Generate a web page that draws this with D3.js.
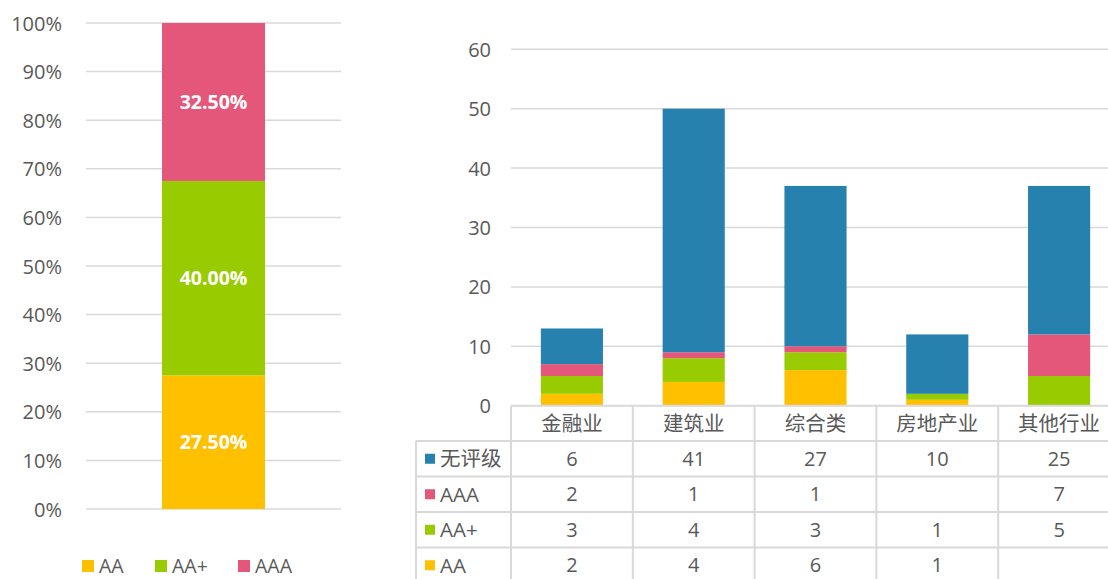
<!DOCTYPE html>
<html>
<head>
<meta charset="utf-8">
<script src="https://cdn.jsdelivr.net/npm/d3@7"></script>
<style>
  html, body { margin: 0; padding: 0; background: #fff; }
  svg { display: block; }
  text { font-family: "Open Sans", "Noto Sans CJK SC", sans-serif; fill: #595959; }
</style>
</head>
<body>
<svg id="chart" width="1108" height="579"></svg>
<script>
// ---- Data ----
const ratings = ["AA", "AA+", "AAA"];
const ratingShares = [0.275, 0.40, 0.325];
const shareTicks = [0, 0.1, 0.2, 0.3, 0.4, 0.5, 0.6, 0.7, 0.8, 0.9, 1.0];

const industries = ["金融业", "建筑业", "综合类", "房地产业", "其他行业"];
const seriesNames = ["AA", "AA+", "AAA", "无评级"];
const valuesAA      = [2, 4, 6, 1, null];
const valuesAAPlus  = [3, 4, 3, 1, 5];
const valuesAAA     = [2, 1, 1, null, 7];
const valuesUnrated = [6, 41, 27, 10, 25];
const countTicks = [0, 10, 20, 30, 40, 50, 60];

const colors = { "AA": "#FFC000", "AA+": "#99CC00", "AAA": "#E5577A", "无评级": "#2681AF" };
const gridColor = "#D9D9D9";

const svg = d3.select("#chart");

// ================= Left chart: 100% stacked column =================
const L = { x0: 86, x1: 341, yTop: 23, yBot: 509 };
const yL = d3.scaleLinear().domain([0, 1]).range([L.yBot, L.yTop]);
const xL = d3.scaleBand().domain(["total"]).range([L.x0, L.x1]).paddingInner(0).paddingOuter(0.738);

const gL = svg.append("g");
gL.selectAll("line.grid").data(shareTicks).join("line")
  .attr("x1", L.x0).attr("x2", L.x1)
  .attr("y1", d => yL(d)).attr("y2", d => yL(d))
  .attr("stroke", gridColor).attr("stroke-width", 1.5);

const axisL = d3.axisLeft(yL).tickValues(shareTicks).tickFormat(d3.format(".0%")).tickSize(0).tickPadding(0);
const axL = gL.append("g").attr("transform", `translate(62,0)`).call(axisL);
axL.select(".domain").remove();
axL.selectAll("text").attr("font-size", 20).attr("fill", "#595959")
  .attr("font-family", "'Open Sans', sans-serif").attr("dy", "0.35em");

const leftStack = [];
let acc = 0;
ratings.forEach((r, i) => { leftStack.push({ key: r, y0: acc, y1: acc + ratingShares[i] }); acc += ratingShares[i]; });

gL.selectAll("rect.seg").data(leftStack).join("rect")
  .attr("x", xL("total")).attr("width", xL.bandwidth())
  .attr("y", d => yL(d.y1)).attr("height", d => yL(d.y0) - yL(d.y1))
  .attr("fill", d => colors[d.key]);

gL.selectAll("text.lbl").data(leftStack).join("text")
  .attr("x", xL("total") + xL.bandwidth() / 2)
  .attr("y", d => (yL(d.y0) + yL(d.y1)) / 2)
  .attr("dy", "0.36em")
  .attr("text-anchor", "middle")
  .attr("font-size", 19.5).attr("font-weight", 700)
  .style("fill", "#fff")
  .text(d => d3.format(".2%")(d.y1 - d.y0));

// legend
const legendX = [82, 155, 238];
const lg = gL.selectAll("g.leg").data(ratings).join("g")
  .attr("transform", (d, i) => `translate(${legendX[i]},560)`);
lg.append("rect").attr("width", 12).attr("height", 12).attr("fill", d => colors[d]);
lg.append("text").attr("x", 17).attr("y", 13).attr("font-size", 19.5).text(d => d);

// ================= Right chart: stacked column + data table =================
const R = { x0: 511, x1: 1120, yTop: 49.3, yBot: 405.7 };
const yR = d3.scaleLinear().domain([0, 60]).range([R.yBot, R.yTop]);
const xR = d3.scaleBand().domain(industries).range([R.x0, R.x1]).paddingInner(0.49).paddingOuter(0.245);
const step = xR.step();

const gR = svg.append("g");
gR.selectAll("line.grid").data(countTicks.filter(d => d > 0)).join("line")
  .attr("x1", R.x0).attr("x2", 1108)
  .attr("y1", d => yR(d)).attr("y2", d => yR(d))
  .attr("stroke", gridColor).attr("stroke-width", 1.5);

const axisR = d3.axisLeft(yR).tickValues(countTicks).tickSize(0).tickPadding(0);
const axR = gR.append("g").attr("transform", `translate(491,0)`).call(axisR);
axR.select(".domain").remove();
axR.selectAll("text").attr("font-size", 20).attr("fill", "#595959")
  .attr("font-family", "'Open Sans', sans-serif").attr("dy", "0.35em");

const rows = industries.map((c, i) => ({
  cat: c, "AA": valuesAA[i] || 0, "AA+": valuesAAPlus[i] || 0, "AAA": valuesAAA[i] || 0, "无评级": valuesUnrated[i] || 0
}));
const stacked = d3.stack().keys(seriesNames)(rows);

gR.selectAll("g.series").data(stacked).join("g")
  .attr("fill", d => colors[d.key])
  .selectAll("rect").data(d => d).join("rect")
  .attr("x", d => xR(d.data.cat)).attr("width", xR.bandwidth())
  .attr("y", d => yR(d[1])).attr("height", d => Math.max(0, yR(d[0]) - yR(d[1])));

// ---- Data table ----
const tTop = yR(0);
const headerH = 35.3;
const rowH = 35.5;
const tableLeft = 416;
const tableRows = [
  { name: "无评级", vals: valuesUnrated },
  { name: "AAA", vals: valuesAAA },
  { name: "AA+", vals: valuesAAPlus },
  { name: "AA", vals: valuesAA }
];
const tg = gR.append("g");
const lineAttr = s => s.attr("stroke", gridColor).attr("stroke-width", 2);
tg.append("line").attr("x1", R.x0).attr("x2", R.x1).attr("y1", tTop).attr("y2", tTop).call(lineAttr);
d3.range(tableRows.length + 1).forEach(i => {
  const y = tTop + headerH + i * rowH;
  tg.append("line").attr("x1", tableLeft).attr("x2", R.x1).attr("y1", y).attr("y2", y).call(lineAttr);
});
const tBottom = tTop + headerH + tableRows.length * rowH;
tg.append("line").attr("x1", tableLeft).attr("x2", tableLeft).attr("y1", tTop + headerH).attr("y2", tBottom).call(lineAttr);
d3.range(industries.length + 1).forEach(i => {
  const x = R.x0 + i * step;
  tg.append("line").attr("x1", x).attr("x2", x).attr("y1", tTop).attr("y2", tBottom).call(lineAttr);
});
tg.selectAll("text.hdr").data(industries).join("text")
  .attr("x", d => xR(d) + xR.bandwidth() / 2)
  .attr("y", tTop + headerH / 2).attr("dy", "0.36em")
  .attr("text-anchor", "middle").attr("font-size", 20.5)
  .attr("font-family", "'Noto Sans CJK SC', sans-serif")
  .text(d => d);
tableRows.forEach((r, ri) => {
  const cy = tTop + headerH + ri * rowH + rowH / 2;
  tg.append("rect").attr("x", 425).attr("y", cy - 5).attr("width", 10).attr("height", 10).attr("fill", colors[r.name]);
  tg.append("text").attr("x", 440).attr("y", cy).attr("dy", "0.36em")
    .attr("font-size", 20.5)
    .attr("font-family", "'Open Sans', 'Noto Sans CJK SC', sans-serif")
    .text(r.name);
  industries.forEach((c, ci) => {
    const v = r.vals[ci];
    if (v == null) return;
    tg.append("text").attr("x", xR(c) + xR.bandwidth() / 2).attr("y", cy).attr("dy", "0.36em")
      .attr("text-anchor", "middle").attr("font-size", 20).text(v);
  });
});
</script>
</body>
</html>
